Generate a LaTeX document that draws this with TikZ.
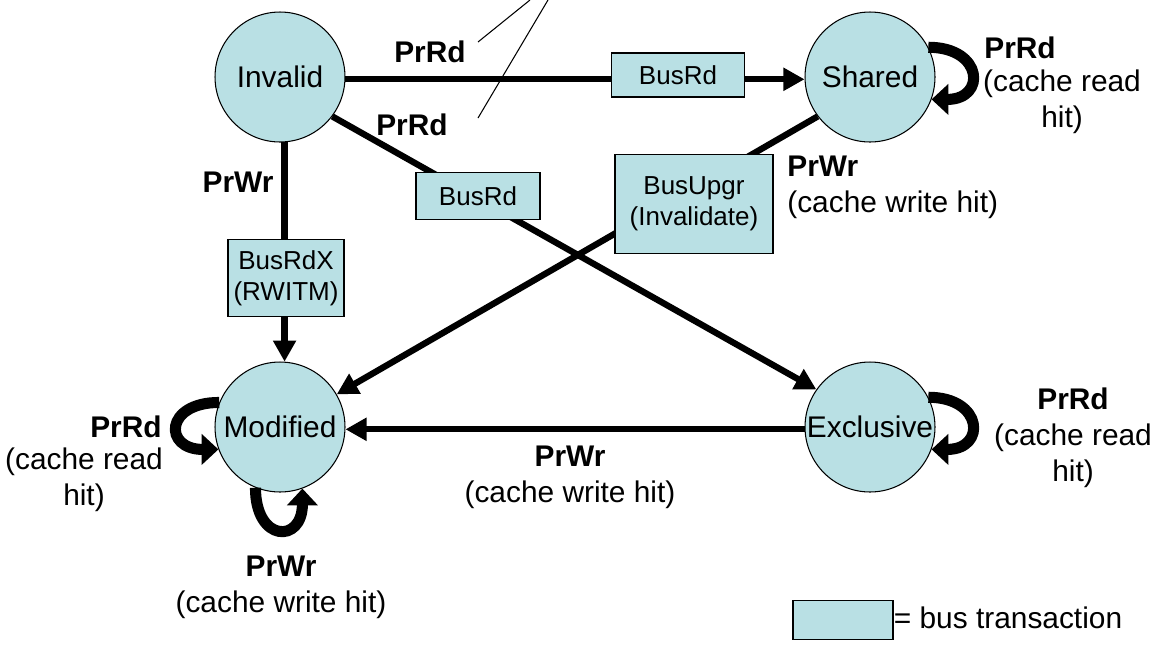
\documentclass[tikz,border=0pt]{standalone}
\usepackage{fontspec}
\setmainfont{Liberation Sans}
\usetikzlibrary{arrows.meta}
\definecolor{stateblue}{RGB}{185,224,228}

\begin{document}
\begin{tikzpicture}[x=0.02cm,y=-0.02cm,
  state/.style={circle,draw,line width=0.6pt,fill=stateblue,minimum size=2.6cm,inner sep=0pt,font=\fontsize{17}{20}\selectfont},
  bus/.style={draw,line width=0.6pt,fill=stateblue,inner sep=0pt,align=center,font=\fontsize{14.8}{17.5}\selectfont},
  lbl/.style={inner sep=0pt,align=center,font=\fontsize{17}{20.5}\selectfont},
  trans/.style={line width=3.6pt,-{Triangle[length=12pt,width=12.5pt]}},
  selfloop/.style={line width=6.3pt,-{Triangle[length=9.5pt,width=17pt]}}]
\useasboundingbox (0,0) rectangle (1160,650);

% states
\node[state] (Invalid) at (280,77) {Invalid};
\node[state] (Shared) at (870,77) {Shared};
\node[state] (Modified) at (280,427) {Modified};
\node[state] (Exclusive) at (870,427) {Exclusive};

% transitions
\draw[trans] (Invalid.-2) -- (Shared.182);
\draw[trans] (Invalid.-86) -- (Modified.86);
\draw[trans] (Invalid.-37) -- (Exclusive.145);
\draw[trans] (Shared.-143) -- (Modified.30);
\draw[trans] (Exclusive.182) -- (Modified.-2);

% self loops
\draw[selfloop] (Shared.27) .. controls +(55,0) and +(55,0) .. (Shared.-20);
\draw[selfloop] (Exclusive.27) .. controls +(55,0) and +(55,0) .. (Exclusive.-20);
\draw[selfloop] (Modified.158) .. controls +(-55,0) and +(-55,0) .. (Modified.200);
\draw[selfloop] (Modified.-112) .. controls +(0,55) and +(0,55) .. (Modified.-70);

% bus transactions
\node[bus,minimum width=2.66cm,minimum height=0.88cm] (rdS) at (678,75) {BusRd};
\node[bus,minimum width=2.48cm,minimum height=0.94cm] (rdE) at (478,196) {BusRd};
\node[bus,minimum width=2.32cm,minimum height=1.54cm] (rdX) at (286,278) {BusRdX\\(RWITM)};
\node[bus,minimum width=3.16cm,minimum height=1.98cm] (upgr) at (694,204) {BusUpgr\\(Invalidate)};

% labels
\node[lbl] (l1) at (430,52) {\textbf{PrRd}};
\node[lbl] (l2) at (412,125) {\textbf{PrRd}};
\node[lbl] (l3) at (238,182) {\textbf{PrWr}};
\node[lbl,align=left,anchor=west] (l4) at (787,187) {\textbf{PrWr}\\(cache write hit)};
\node[lbl,anchor=west] (l5) at (984,48) {\textbf{PrRd}};
\node[lbl] (l6) at (1062,102) {(cache read\\hit)};
\node[lbl] (l7) at (1073,438) {\textbf{PrRd}\\(cache read\\hit)};
\node[lbl,anchor=east] (l8) at (162,427) {\textbf{PrRd}};
\node[lbl] (l9) at (84,480) {(cache read\\hit)};
\node[lbl] (l10) at (570,477) {\textbf{PrWr}\\(cache write hit)};
\node[lbl] (l11) at (281,587) {\textbf{PrWr}\\(cache write hit)};

% callout lines
\coordinate (c1) at (530,0);
\coordinate (c2) at (548,0);
\draw[line width=0.6pt] (478,42) -- (c1);
\draw[line width=0.6pt] (478,118) -- (c2);

% legend
\node[bus,minimum width=2cm,minimum height=0.78cm] (key) at (843,620) {};
\node[lbl,anchor=west] (keytext) at ([yshift=1.5pt]key.east) {= bus transaction};
\end{tikzpicture}
\end{document}
